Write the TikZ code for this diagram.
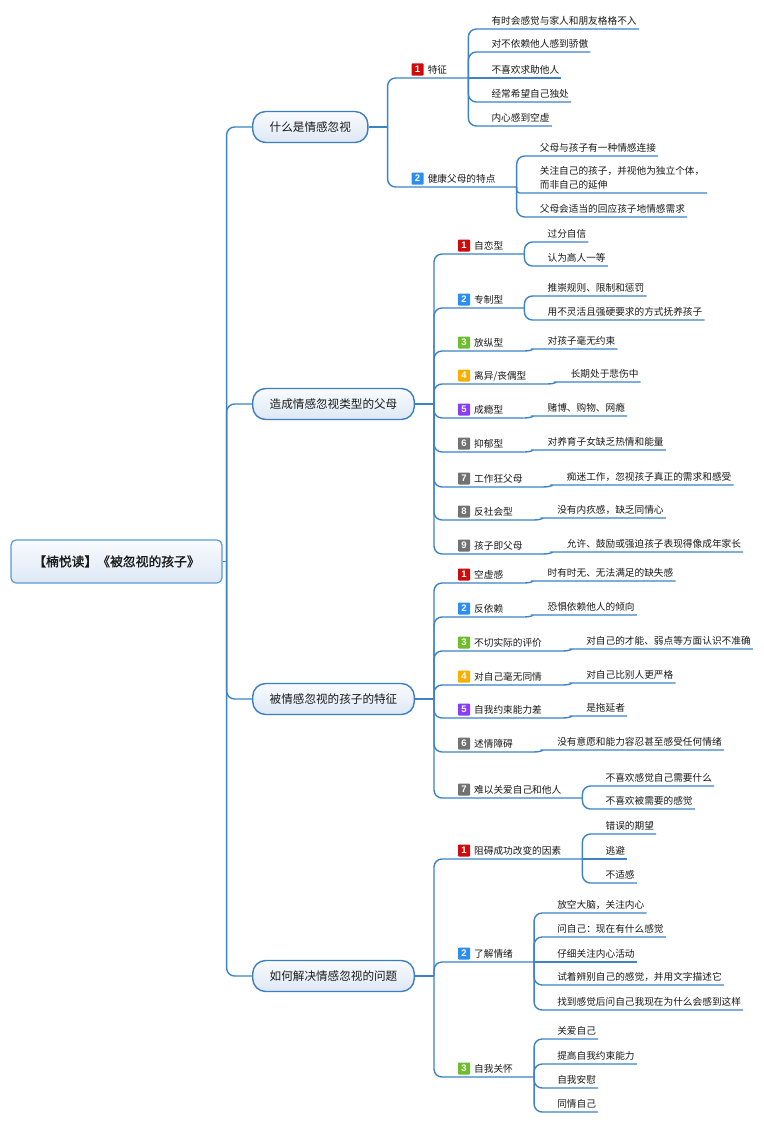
\documentclass[tikz,border=0pt]{standalone}
\usepackage{fontspec}
\setmainfont{Noto Sans CJK SC}
\newfontfamily\digitfont{Liberation Sans}
\newfontfamily\rootfont{Noto Sans CJK SC}[FakeBold=1.4]
\definecolor{linec}{HTML}{3C83C8}
\definecolor{boxc}{HTML}{3D7EC2}
\definecolor{rootc}{HTML}{5A9BD5}
\definecolor{boxtop}{HTML}{F9FBFE}
\definecolor{boxbot}{HTML}{DDE8F5}
\definecolor{txt}{HTML}{1A1A1A}
\definecolor{bred}{HTML}{D00A0A}
\definecolor{bblue}{HTML}{2A8EF2}
\definecolor{bgreen}{HTML}{6DBE2C}
\definecolor{borange}{HTML}{F7B000}
\definecolor{bpurple}{HTML}{8A3DF5}
\definecolor{bgray}{HTML}{727272}
\tikzset{
  conn/.style={draw=linec, line width=1.4pt, rounded corners=8pt},
  leaf/.style={font=\fontsize{9.67}{14}\selectfont, text=txt, text height=8pt, text depth=2pt, inner xsep=2pt, inner ysep=2.4pt, anchor=south west},
  sub/.style={leaf},
  badge/.style={font=\digitfont\bfseries\fontsize{9.5}{9.5}\selectfont, text=white, minimum width=12pt, minimum height=12pt, inner sep=0pt, rounded corners=0.8pt},
  mainbox/.style={draw=boxc, line width=1.4pt, rounded corners=13pt, top color=boxtop, bottom color=boxbot, font=\fontsize{11.6}{14}\selectfont, text=txt, inner xsep=17pt, minimum height=31pt, text height=10pt, text depth=1.3pt, anchor=west},
  rootbox/.style={draw=rootc, line width=1.2pt, rounded corners=5pt, top color=boxtop, bottom color=boxbot, font=\rootfont\fontsize{12.8}{15}\selectfont, text=txt, minimum width=211pt, minimum height=43pt, text height=11pt, text depth=1.4pt}
}
\newcommand\mksub[6]{%
  \node[sub, xshift=38pt] (#1) at (#2 |- 0,#3) {#6};
  \node[badge, fill=#4] (#1b) at ([xshift=-8pt,yshift=8.5pt]#1.south west) {#5};
  \coordinate (#1k) at ([xshift=19pt]#1.south east);
  \draw[conn] (#2) |- (#1.south east) -- (#1k);}
\newcommand\mkleaf[4]{%
  \node[leaf, xshift=21pt] (#1) at (#2 |- 0,#3) {#4};
  \draw[conn] (#2) |- (#1.south east);}
\newcommand\mkleafs[4]{%
  \node[leaf, xshift=21pt] (#1) at (#2 |- 0,#3) {#4};
  \draw[conn] (#2) -- (#1.south east);}
\newcommand\mkone[4]{%
  \node[leaf, xshift=21pt] (#1) at (#2 |- 0,#3) {#4};
  \draw[conn] (#2) to[out=0,in=180] ([xshift=-5pt]#1.south west) -- (#1.south east);}
\begin{document}
\begin{tikzpicture}[x=1pt,y=-1pt]
\fill[white] (0,0) rectangle (763,1124);
\useasboundingbox (0,0) rectangle (763,1124);

% root
\node[rootbox] (root) at (116.5,561.5) {【楠悦读】《被忽视的孩子》};
\coordinate (rj) at ([xshift=4pt]root.east);
\draw[conn] (root.east) -- (rj);

% level 1
\node[mainbox] (A) at (252,127) {什么是情感忽视};
\node[mainbox] (B) at (252,404) {造成情感忽视类型的父母};
\node[mainbox] (C) at (252,699) {被情感忽视的孩子的特征};
\node[mainbox] (D) at (252,976) {如何解决情感忽视的问题};
\draw[conn] (rj) |- (A.west);
\draw[conn] (rj) |- (B.west);
\draw[conn] (rj) |- (C.west);
\draw[conn] (rj) |- (D.west);
\coordinate (Aj) at ([xshift=19pt]A.east);
\coordinate (Bj) at ([xshift=19pt]B.east);
\coordinate (Cj) at ([xshift=19pt]C.east);
\coordinate (Dj) at ([xshift=19pt]D.east);
\draw[conn] (A.east) -- (Aj);
\draw[conn] (B.east) -- (Bj);
\draw[conn] (C.east) -- (Cj);
\draw[conn] (D.east) -- (Dj);

% ---- A
\mksub{A1}{Aj}{78}{bred}{1}{特征}
\mkleaf{A1a}{A1k}{29}{有时会感觉与家人和朋友格格不入}
\mkleaf{A1b}{A1k}{52}{对不依赖他人感到骄傲}
\mkleafs{A1c}{A1k}{78}{不喜欢求助他人}
\mkleaf{A1d}{A1k}{102}{经常希望自己独处}
\mkleaf{A1e}{A1k}{126}{内心感到空虚}
\mksub{A2}{Aj}{187}{bblue}{2}{健康父母的特点}
\mkleaf{A2a}{A2k}{156}{父母与孩子有一种情感连接}
\node[leaf, xshift=21pt] (A2c) at (A2k |- 0,193) {\parbox[b]{165pt}{\raggedright 关注自己的孩子，并视他为独立个体，\\而非自己的延伸}};
\draw[conn, rounded corners=3pt] (A2k) |- (A2c.south east);
\mkleaf{A2d}{A2k}{217}{父母会适当的回应孩子地情感需求}

% ---- B
\mksub{B1}{Bj}{254}{bred}{1}{自恋型}
\mkleaf{B1a}{B1k}{242}{过分自信}
\mkleaf{B1c}{B1k}{266}{认为高人一等}
\mksub{B2}{Bj}{308}{bblue}{2}{专制型}
\mkleaf{B2a}{B2k}{296}{推崇规则、限制和惩罚}
\mkleaf{B2c}{B2k}{320}{用不灵活且强硬要求的方式抚养孩子}
\mksub{B3}{Bj}{351}{bgreen}{3}{放纵型}
\mkone{B3a}{B3k}{349}{对孩子毫无约束}
\mksub{B4}{Bj}{384}{borange}{4}{离异/丧偶型}
\mkone{B4a}{B4k}{382}{长期处于悲伤中}
\mksub{B5}{Bj}{418}{bpurple}{5}{成瘾型}
\mkone{B5a}{B5k}{416}{赌博、购物、网瘾}
\mksub{B6}{Bj}{452}{bgray}{6}{抑郁型}
\mkone{B6a}{B6k}{450}{对养育子女缺乏热情和能量}
\mksub{B7}{Bj}{487}{bgray}{7}{工作狂父母}
\mkone{B7a}{B7k}{485}{痴迷工作，忽视孩子真正的需求和感受}
\mksub{B8}{Bj}{520}{bgray}{8}{反社会型}
\mkone{B8a}{B8k}{518}{没有内疚感，缺乏同情心}
\mksub{B9}{Bj}{554}{bgray}{9}{孩子即父母}
\mkone{B9a}{B9k}{552}{允许、鼓励或强迫孩子表现得像成年家长}

% ---- C
\mksub{C1}{Cj}{583}{bred}{1}{空虚感}
\mkone{C1a}{C1k}{581}{时有时无、无法满足的缺失感}
\mksub{C2}{Cj}{617}{bblue}{2}{反依赖}
\mkone{C2a}{C2k}{615}{恐惧依赖他人的倾向}
\mksub{C3}{Cj}{651}{bgreen}{3}{不切实际的评价}
\mkone{C3a}{C3k}{649}{对自己的才能、弱点等方面认识不准确}
\mksub{C4}{Cj}{685}{borange}{4}{对自己毫无同情}
\mkone{C4a}{C4k}{683}{对自己比别人更严格}
\mksub{C5}{Cj}{718}{bpurple}{5}{自我约束能力差}
\mkone{C5a}{C5k}{716}{是拖延者}
\mksub{C6}{Cj}{752}{bgray}{6}{述情障碍}
\mkone{C6a}{C6k}{750}{没有意愿和能力容忍甚至感受任何情绪}
\mksub{C7}{Cj}{798}{bgray}{7}{难以关爱自己和他人}
\mkleaf{C7a}{C7k}{786}{不喜欢感觉自己需要什么}
\mkleaf{C7c}{C7k}{809}{不喜欢被需要的感觉}

% ---- D
\mksub{D1}{Dj}{859}{bred}{1}{阻碍成功改变的因素}
\mkleaf{D1a}{D1k}{834}{错误的期望}
\mkleafs{D1b}{D1k}{859}{逃避}
\mkleaf{D1c}{D1k}{883}{不适感}
\mksub{D2}{Dj}{962}{bblue}{2}{了解情绪}
\mkleaf{D2a}{D2k}{913}{放空大脑，关注内心}
\mkleaf{D2b}{D2k}{937}{问自己：现在有什么感觉}
\mkleafs{D2c}{D2k}{962}{仔细关注内心活动}
\mkleaf{D2d}{D2k}{985}{试着辨别自己的感觉，并用文字描述它}
\mkleaf{D2e}{D2k}{1010}{找到感觉后问自己我现在为什么会感到这样}
\mksub{D3}{Dj}{1077}{bgreen}{3}{自我关怀}
\mkleaf{D3a}{D3k}{1039}{关爱自己}
\mkleaf{D3b}{D3k}{1064}{提高自我约束能力}
\mkleaf{D3c}{D3k}{1088}{自我安慰}
\mkleaf{D3d}{D3k}{1112}{同情自己}
\end{tikzpicture}
\end{document}
